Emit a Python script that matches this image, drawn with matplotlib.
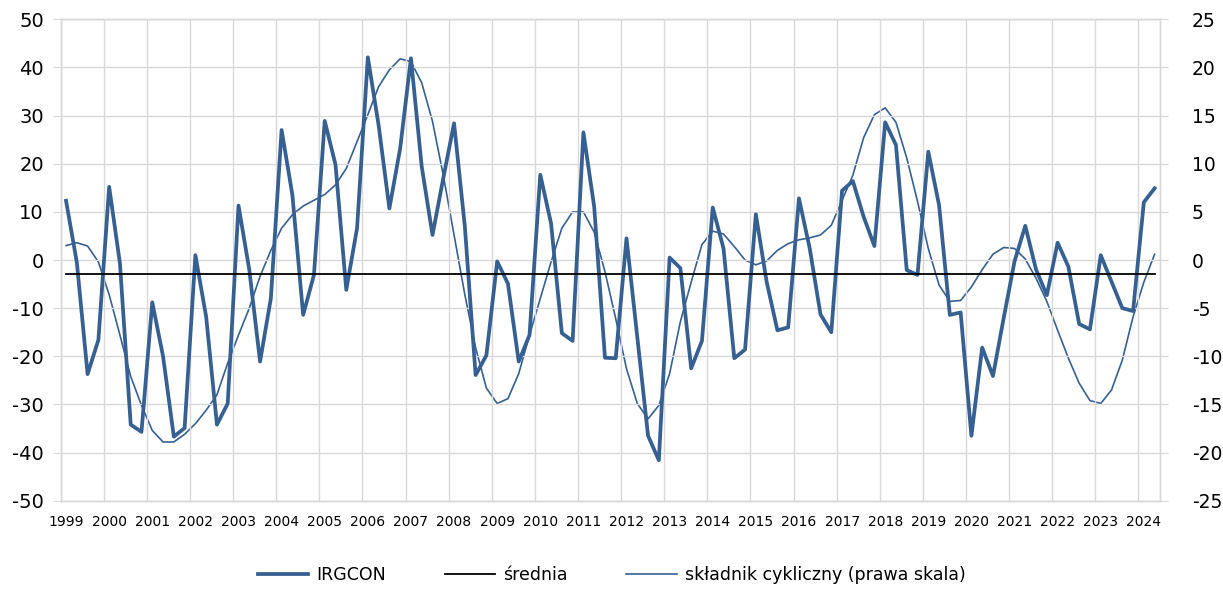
import matplotlib
matplotlib.use('Agg')
import matplotlib.pyplot as plt
import numpy as np

plt.rcParams['axes.unicode_minus'] = False

# kwartały 1999Q1 - 2024Q2
years = list(range(1999, 2025))

irgcon = [
    12.3, -0.5, -23.7, -16.6,    # 1999
    15.2, -0.7, -34.2, -35.7,    # 2000
    -8.8, -20.0, -36.7, -34.9,   # 2001
    1.0, -11.8, -34.2, -29.8,    # 2002
    11.3, -2.0, -21.1, -8.0,     # 2003
    27.0, 13.5, -11.4, -3.1,     # 2004
    28.9, 19.8, -6.2, 6.6,       # 2005
    42.1, 28.0, 10.7, 23.2,      # 2006
    41.9, 19.4, 5.2, 17.0,       # 2007
    28.4, 7.0, -23.9, -19.8,     # 2008
    -0.3, -4.9, -21.1, -15.6,    # 2009
    17.7, 7.6, -15.2, -16.8,     # 2010
    26.5, 11.1, -20.3, -20.4,    # 2011
    4.5, -16.0, -36.5, -41.6,    # 2012
    0.5, -1.7, -22.5, -16.8,     # 2013
    10.9, 2.4, -20.4, -18.6,     # 2014
    9.5, -4.5, -14.6, -14.0,     # 2015
    12.8, 2.4, -11.3, -15.0,     # 2016
    14.4, 16.4, 9.0, 2.9,        # 2017
    28.6, 23.9, -2.1, -3.1,      # 2018
    22.5, 11.4, -11.4, -10.9,    # 2019
    -36.5, -18.2, -24.1, -12.0,  # 2020
    -0.3, 7.1, -2.0, -7.3,       # 2021
    3.6, -1.4, -13.3, -14.4,     # 2022
    1.0, -4.5, -10.0, -10.6,     # 2023
    12.0, 14.9,                  # 2024
]

cyclic = [
    1.5, 1.8, 1.45, -0.2,        # 1999
    -3.6, -7.8, -12.1, -15.1,    # 2000
    -17.7, -18.9, -18.9, -18.1,  # 2001
    -17.0, -15.6, -14.0, -10.7,  # 2002
    -7.8, -5.0, -1.7, 1.0,       # 2003
    3.3, 4.7, 5.6, 6.2,          # 2004
    6.8, 7.8, 9.5, 12.3,         # 2005
    15.1, 18.0, 19.75, 20.9,     # 2006
    20.6, 18.4, 14.4, 8.8,       # 2007
    2.6, -3.6, -9.1, -13.3,      # 2008
    -14.9, -14.4, -11.8, -7.8,   # 2009
    -4.0, -0.2, 3.3, 5.0,        # 2010
    5.0, 2.9, -1.2, -6.1,        # 2011
    -11.3, -14.9, -16.5, -15.1,  # 2012
    -11.8, -6.4, -2.3, 1.6,      # 2013
    3.0, 2.7, 1.4, 0.0,          # 2014
    -0.5, -0.1, 1.0, 1.7,        # 2015
    2.1, 2.3, 2.6, 3.6,          # 2016
    6.2, 8.8, 12.7, 15.1,        # 2017
    15.8, 14.3, 10.6, 6.1,       # 2018
    1.2, -2.6, -4.3, -4.2,       # 2019
    -2.8, -1.0, 0.6, 1.3,        # 2020
    1.2, 0.1, -1.9, -4.3,        # 2021
    -7.3, -10.2, -12.8, -14.6,   # 2022
    -14.9, -13.5, -10.4, -5.9,   # 2023
    -2.3, 0.6,                   # 2024
]

mean_value = -3.0

blue = '#376092'
grid_col = '#d9d9d9'

x = np.arange(len(irgcon))

fig = plt.figure(figsize=(12.23, 5.92), dpi=100)
ax = fig.add_axes([0.0496, 0.1542, 0.8989, 0.8132])
ax2 = ax.twinx()

ax.set_zorder(ax2.get_zorder() + 1)
ax.patch.set_visible(False)

l1, = ax.plot(x, irgcon, color=blue, lw=2.7, solid_joinstyle='round', label='IRGCON')
l2, = ax.plot(x, [mean_value] * len(x), color='black', lw=1.3, label='średnia')
l3, = ax2.plot(x, cyclic, color=blue, lw=1.2, label='składnik cykliczny (prawa skala)')

ax.set_xlim(-0.5, len(x) - 0.5)
ax.set_ylim(-50, 50)
ax2.set_ylim(-25, 25)
ax.set_yticks(np.arange(-50, 51, 10))
ax2.set_yticks(np.arange(-25, 26, 5))

# siatka: linie poziome i granice lat
for yv in np.arange(-50, 51, 10):
    ax.axhline(yv, color=grid_col, lw=1.0, zorder=0)
for b in np.arange(-0.5, len(x), 4):
    ax.axvline(b, color=grid_col, lw=1.0, zorder=0)

ax.set_xticks(np.arange(0, len(x), 4))
ax.set_xticklabels([str(y) for y in years])
ax.tick_params(axis='x', length=0, labelsize=10, pad=10)
ax.tick_params(axis='y', colors=grid_col, length=6, labelsize=14, labelcolor='black', pad=6)
ax2.tick_params(axis='y', colors=grid_col, length=6, labelsize=13.5, labelcolor='black', pad=17)

for a in (ax, ax2):
    for s in a.spines.values():
        s.set_color(grid_col)
        s.set_linewidth(1.0)

fig.legend(handles=[l1, l2, l3], loc='center', bbox_to_anchor=(0.5, 0.028),
           ncol=3, frameon=False, fontsize=12.5, handlelength=2.9,
           columnspacing=3.4, handletextpad=0.45)

fig.savefig('out.png', dpi=100)
